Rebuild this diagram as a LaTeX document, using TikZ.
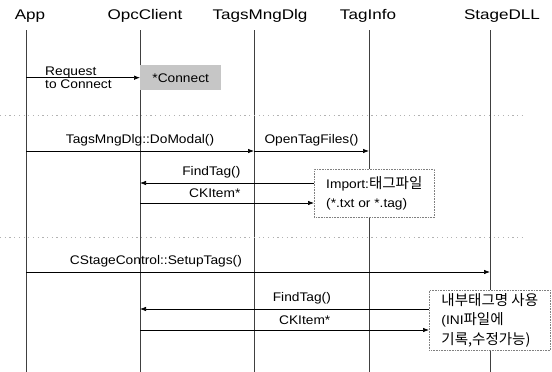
\documentclass[tikz,border=0pt]{standalone}
\usepackage{fontspec}
\setmainfont{Liberation Sans}
\newfontfamily\headfont[FakeStretch=1.22]{Liberation Sans}
\newfontfamily\lblfont[FakeStretch=1.1]{Liberation Sans}
\newfontfamily\krfont{Noto Sans CJK KR}
\newcommand{\krtext}[1]{{\krfont\fontsize{14.5}{19}\selectfont #1}}
\usetikzlibrary{arrows.meta,positioning}
\tikzset{
  head/.style={font=\headfont\fontsize{14}{16}\selectfont, inner sep=0pt},
  lbl/.style={font=\lblfont\fontsize{12.5}{13}\selectfont, inner sep=1pt},
  life/.style={line width=0.7pt, black!75},
  msg/.style={-{Latex[length=6pt,width=4.5pt]}, line width=0.7pt},
  sep/.style={gray!60, line width=0.6pt, dash pattern=on 1.2pt off 3.5pt},
  note/.style={draw=gray, densely dotted, line width=0.6pt, fill=white, align=left,
    inner sep=0pt, anchor=north west, font=\lblfont\fontsize{12.5}{19.5}\selectfont},
}
\begin{document}
\begin{tikzpicture}[x=1pt,y=-1pt]
    \useasboundingbox (0,0) rectangle (552,372);
    % lifelines
    \foreach \n/\x in {App/26,Opc/140,Dlg/254,Info/369,Dll/490}
    \draw[life] (\x,30) coordinate (\n) -- (\x,372);
    \node[head] (hApp) at (30,16) {App};
    \node[head] (hOpc) at (145,16) {OpcClient};
    \node[head] (hDlg) at (260,16) {TagsMngDlg};
    \node[head] (hInfo) at (368,16) {TagInfo};
    \node[head] (hDll) at (502,16) {StageDLL};
    % separators
    \draw[sep] (0,115) -- (526,115);
    \draw[sep] (0,237) -- (526,237);
    % connect
    \node[lbl, fill=gray!45, inner sep=0pt, minimum width=81pt, minimum height=25pt, anchor=north west] (conn) at (140,65) {*Connect};
    \node[lbl, anchor=west, align=left] (req) at (44,77.5) {Request\\to Connect};
    \draw[msg] (App |- conn.west) -- (conn.west);
    % tag files
    \draw[msg] (App |- 0,151) -- node[lbl, above=4pt] {TagsMngDlg::DoModal()} (Dlg |- 0,151);
    \draw[msg] (Dlg |- 0,151) -- node[lbl, above=4pt] {OpenTagFiles()} (Info |- 0,151);
    \node[note, minimum width=120pt, minimum height=48pt] (imp) at (314,169) {Import:\krtext{태그파일}\\(*.txt or *.tag)};
    \draw[msg] (imp.west |- 0,183) -- node[lbl, above=4pt, pos=0.59] {FindTag()} (Opc |- 0,183);
    \draw[msg] (Opc |- 0,203) -- node[lbl, above=4pt, pos=0.43] {CKItem*} (imp.west |- 0,203);
    % internal tags
    \draw[msg] (App |- 0,272) -- node[lbl, above=4pt, pos=0.28] {CStageControl::SetupTags()} (Dll |- 0,272);
    \node[note, minimum width=121pt, minimum height=60pt] (intl) at (429,290) {\krtext{내부태그명 사용}\\(INI\krtext{파일에}\\\krtext{기록,수정가능)}};
    \draw[msg] (intl.west |- 0,309) -- node[lbl, above=4pt, pos=0.44] {FindTag()} (Opc |- 0,309);
    \draw[msg] (Opc |- 0,330) -- node[lbl, above=4pt, pos=0.57] {CKItem*} (intl.west |- 0,330);
\end{tikzpicture}
\end{document}
